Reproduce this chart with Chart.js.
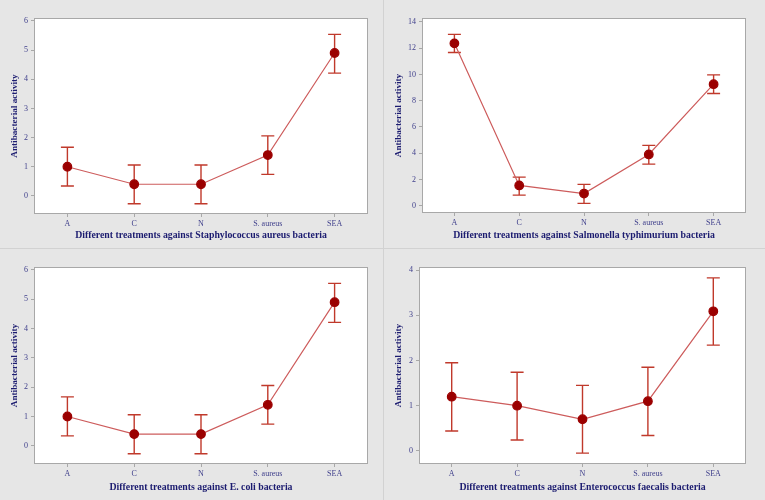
<!DOCTYPE html>
<html>
<head>
<meta charset="utf-8">
<script src="https://cdn.jsdelivr.net/npm/chart.js@4"></script>
<style>
  html, body { margin: 0; padding: 0; background: #e6e6e6; }
  #wrap { position: relative; width: 765px; height: 500px; overflow: hidden; }
  .panel { position: absolute; }
  .vline { position: absolute; left: 383px; top: 0; width: 1px; height: 500px; background: #d2d2d2; }
  .hline { position: absolute; left: 0; top: 248px; width: 765px; height: 1px; background: #d2d2d2; }
</style>
</head>
<body>
<div id="wrap">
  <div class="vline"></div>
  <div class="hline"></div>
  <div class="panel" style="left:0;top:0;width:383px;height:248px"><canvas id="c1"></canvas></div>
  <div class="panel" style="left:384px;top:0;width:381px;height:248px"><canvas id="c2"></canvas></div>
  <div class="panel" style="left:0;top:249px;width:383px;height:251px"><canvas id="c3"></canvas></div>
  <div class="panel" style="left:384px;top:249px;width:381px;height:251px"><canvas id="c4"></canvas></div>
</div>
<script>
// categories shared by all four panels
const categories = ['A', 'C', 'N', 'S. aureus', 'SEA'];

// Staphylococcus aureus
const staphMean = [1.0, 0.4, 0.4, 1.4, 4.9];
const staphLow = [0.34, -0.27, -0.27, 0.74, 4.21];
const staphHigh = [1.67, 1.06, 1.06, 2.06, 5.54];
const staphTicks = [0, 1, 2, 3, 4, 5, 6];

// Salmonella typhimurium
const salmMean = [12.37, 1.55, 0.93, 3.91, 9.26];
const salmLow = [11.67, 0.81, 0.18, 3.17, 8.55];
const salmHigh = [13.05, 2.18, 1.63, 4.6, 9.97];
const salmTicks = [0, 2, 4, 6, 8, 10, 12, 14];

// E. coli
const ecoliMean = [1.0, 0.4, 0.4, 1.4, 4.9];
const ecoliLow = [0.34, -0.27, -0.27, 0.74, 4.21];
const ecoliHigh = [1.67, 1.06, 1.06, 2.06, 5.54];
const ecoliTicks = [0, 1, 2, 3, 4, 5, 6];

// Enterococcus faecalis
const enteroMean = [1.2, 1.0, 0.7, 1.1, 3.09];
const enteroLow = [0.44, 0.24, -0.05, 0.34, 2.34];
const enteroHigh = [1.95, 1.74, 1.45, 1.85, 3.83];
const enteroTicks = [0, 1, 2, 3, 4];

const tickColor = '#40408c';
const titleColor = '#1c1c70';
const serif = '"Liberation Serif", "Times New Roman", serif';

// white plot area with grey frame, and the error bars under the line
const panelPlugin = {
  id: 'panel',
  beforeDraw(chart) {
    const a = chart.chartArea, ctx = chart.ctx;
    ctx.save();
    ctx.fillStyle = '#ffffff';
    ctx.fillRect(a.left, a.top, a.right - a.left, a.bottom - a.top);
    ctx.restore();
  },
  beforeDatasetsDraw(chart) {
    const ds = chart.data.datasets[0];
    const x = chart.scales.x, y = chart.scales.y, ctx = chart.ctx;
    ctx.save();
    ctx.strokeStyle = '#c0392b';
    ctx.lineWidth = 1.4;
    ds.errLow.forEach((lo, i) => {
      const px = x.getPixelForValue(i);
      const yl = y.getPixelForValue(lo), yh = y.getPixelForValue(ds.errHigh[i]);
      ctx.beginPath();
      ctx.moveTo(px, yl); ctx.lineTo(px, yh);
      ctx.moveTo(px - 6.5, yl); ctx.lineTo(px + 6.5, yl);
      ctx.moveTo(px - 6.5, yh); ctx.lineTo(px + 6.5, yh);
      ctx.stroke();
    });
    ctx.restore();
  },
  afterDraw(chart) {
    const a = chart.chartArea, ctx = chart.ctx;
    ctx.save();
    ctx.strokeStyle = '#a8a8a8';
    ctx.lineWidth = 1;
    ctx.strokeRect(Math.round(a.left) + 0.5, Math.round(a.top) + 0.5,
      Math.round(a.right - a.left) - 1, Math.round(a.bottom - a.top) - 1);
    ctx.restore();
  }
};

function makePanel(id, opt) {
  return new Chart(document.getElementById(id), {
    type: 'line',
    data: {
      labels: categories,
      datasets: [{
        data: opt.mean,
        errLow: opt.low,
        errHigh: opt.high,
        borderColor: '#cd5c5c',
        borderWidth: 1.2,
        pointBackgroundColor: '#9b0000',
        pointBorderColor: '#9b0000',
        pointRadius: 4.3,
        tension: 0,
        fill: false
      }]
    },
    options: {
      responsive: true,
      maintainAspectRatio: false,
      animation: false,
      layout: { padding: { top: opt.top, right: opt.right, left: 0, bottom: 0 } },
      plugins: { legend: { display: false }, tooltip: { enabled: false } },
      scales: {
        x: {
          offset: true,
          grid: { display: true, drawOnChartArea: false, color: '#a8a8a8', tickLength: 3 },
          border: { display: false },
          ticks: { color: tickColor, font: { family: serif, size: 8 }, padding: 2, maxRotation: 0 },
          title: {
            display: true, text: opt.xTitle, color: titleColor,
            font: { family: serif, size: 9.8, weight: 'bold' }, padding: { top: 0, bottom: 7 }
          },
          afterFit(s) { s.height = opt.xHeight; }
        },
        y: {
          min: opt.yMin,
          max: opt.yMax,
          afterBuildTicks(s) { s.ticks = opt.ticks.map(v => ({ value: v })); },
          grid: { display: true, drawOnChartArea: false, color: '#a8a8a8', tickLength: 3 },
          border: { display: false },
          ticks: { color: tickColor, font: { family: serif, size: 8 }, padding: 3 },
          title: {
            display: true, text: 'Antibacterial activity', color: titleColor,
            font: { family: serif, size: 9.2, weight: 'bold' }, padding: { top: 9, bottom: 0 }
          },
          afterFit(s) { s.width = opt.yWidth; }
        }
      }
    },
    plugins: [panelPlugin]
  });
}

makePanel('c1', {
  mean: staphMean, low: staphLow, high: staphHigh, ticks: staphTicks,
  yMin: -0.62, yMax: 6.1, top: 18, right: 15, yWidth: 34, xHeight: 34,
  xTitle: 'Different treatments against Staphylococcus aureus bacteria'
});
makePanel('c2', {
  mean: salmMean, low: salmLow, high: salmHigh, ticks: salmTicks,
  yMin: -0.55, yMax: 14.3, top: 18, right: 19, yWidth: 38, xHeight: 35,
  xTitle: 'Different treatments against Salmonella typhimurium bacteria'
});
makePanel('c3', {
  mean: ecoliMean, low: ecoliLow, high: ecoliHigh, ticks: ecoliTicks,
  yMin: -0.62, yMax: 6.1, top: 18, right: 15, yWidth: 34, xHeight: 36,
  xTitle: 'Different treatments against E. coli bacteria'
});
makePanel('c4', {
  mean: enteroMean, low: enteroLow, high: enteroHigh, ticks: enteroTicks,
  yMin: -0.29, yMax: 4.07, top: 18, right: 19, yWidth: 35, xHeight: 36,
  xTitle: 'Different treatments against Enterococcus faecalis bacteria'
});
</script>
</body>
</html>
